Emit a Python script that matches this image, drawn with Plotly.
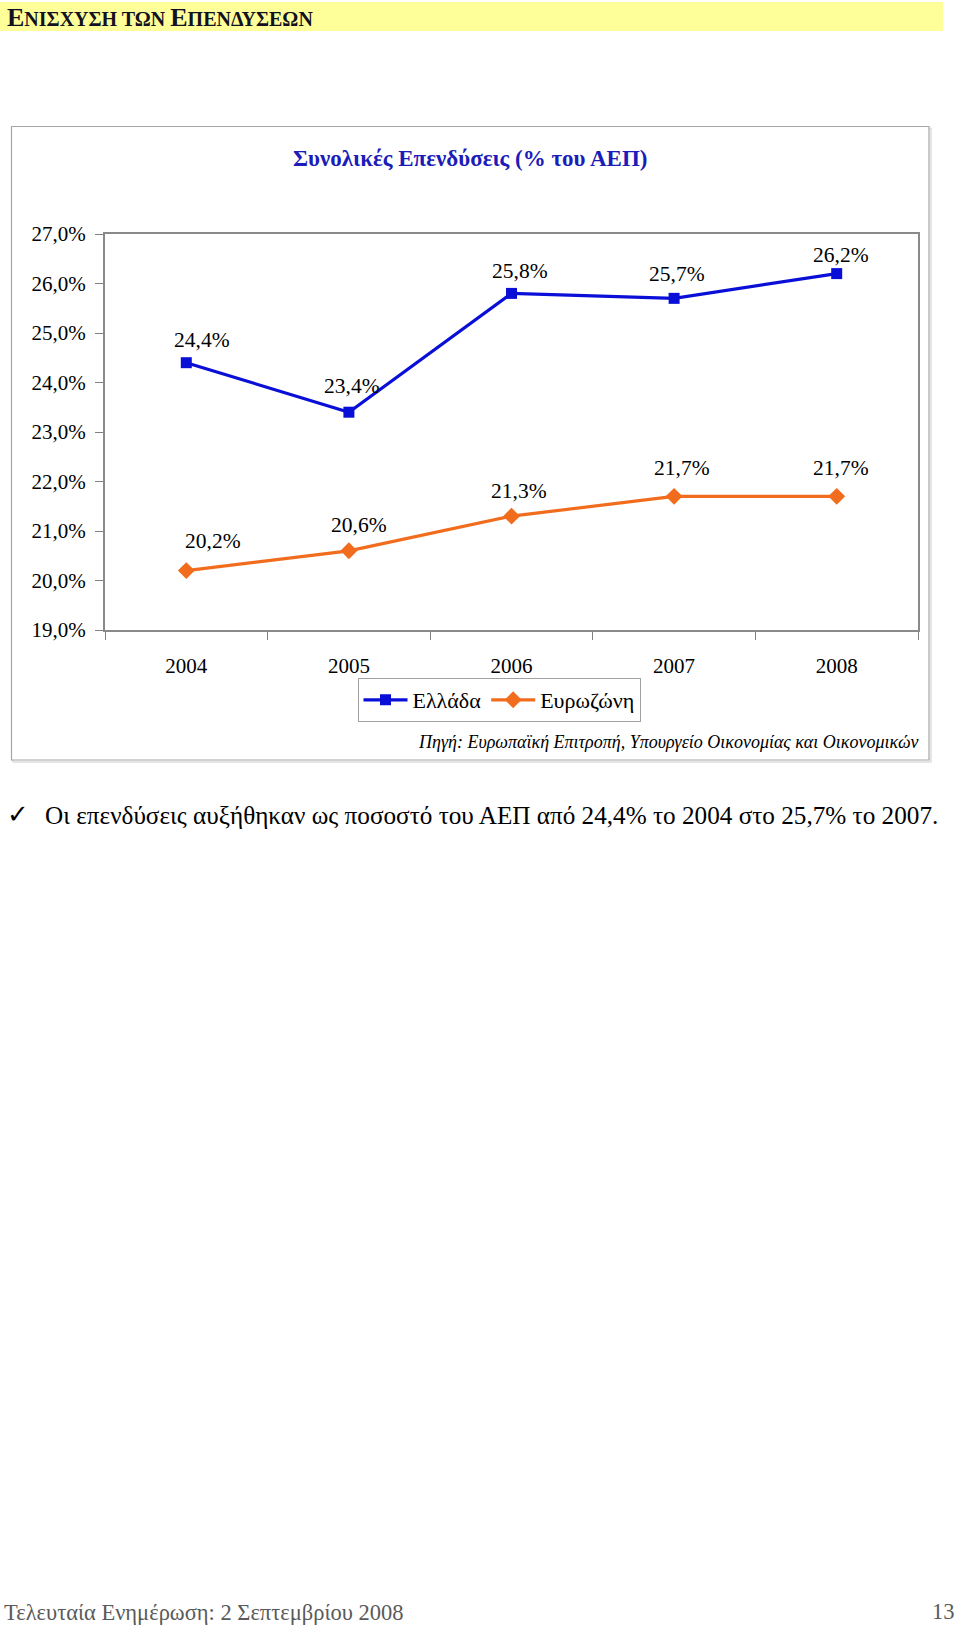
import plotly.graph_objects as go

# ---- data ----
years = ["2004", "2005", "2006", "2007", "2008"]
greece = [24.4, 23.4, 25.8, 25.7, 26.2]
eurozone = [20.2, 20.6, 21.3, 21.7, 21.7]
series_names = ["Ελλάδα", "Ευρωζώνη"]
y_ticks = [19, 20, 21, 22, 23, 24, 25, 26, 27]

chart_title = "Συνολικές Επενδύσεις (% του ΑΕΠ)"
source_text = "Πηγή: Ευρωπαϊκή Επιτροπή, Υπουργείο Οικονομίας και Οικονομικών"
bullet_text = "Οι επενδύσεις αυξήθηκαν ως ποσοστό του ΑΕΠ από 24,4% το 2004 στο 25,7% το 2007."
footer_text = "Τελευταία Ενημέρωση: 2 Σεπτεμβρίου 2008"
page_number = "13"

# label pixel offsets (layout, not data)
greece_label_shift = [(16, 23), (3, 26), (8, 22), (3, 24), (4, 19)]
euro_label_shift = [(27, 30), (10, 26), (7, 25), (8, 28), (4, 28)]

W, H = 960, 1626
SERIF = "Liberation Serif, Times New Roman, serif"
BLUE = "#0a0fd8"
ORANGE = "#f26c1e"


def px(x):
    return x / W


def py(y):
    return 1 - y / H


def fmt(v):
    return f"{v:.1f}".replace(".", ",") + "%"


x_idx = list(range(len(years)))

fig = go.Figure()
fig.add_trace(go.Scatter(
    x=x_idx, y=greece, name=series_names[0], mode="lines+markers",
    line=dict(color=BLUE, width=3.2),
    marker=dict(symbol="square", size=11, color=BLUE),
))
fig.add_trace(go.Scatter(
    x=x_idx, y=eurozone, name=series_names[1], mode="lines+markers",
    line=dict(color=ORANGE, width=3.2),
    marker=dict(symbol="diamond", size=13, color=ORANGE),
))

annotations = []
for i, v, (dx, dy) in zip(x_idx, greece, greece_label_shift):
    annotations.append(dict(x=i, y=v, xref="x", yref="y", text=fmt(v), showarrow=False,
                            xshift=dx, yshift=dy, font=dict(family=SERIF, size=21.5, color="#000")))
for i, v, (dx, dy) in zip(x_idx, eurozone, euro_label_shift):
    annotations.append(dict(x=i, y=v, xref="x", yref="y", text=fmt(v), showarrow=False,
                            xshift=dx, yshift=dy, font=dict(family=SERIF, size=21.5, color="#000")))

# header (small caps)
annotations.append(dict(
    x=px(5), y=py(18), xref="paper", yref="paper", xanchor="left", yanchor="middle",
    showarrow=False,
    text="<b><span style='font-size:26px'>Ε</span>ΝΙΣΧΥΣΗ ΤΩΝ <span style='font-size:26px'>Ε</span>ΠΕΝΔΥΣΕΩΝ</b>",
    font=dict(family=SERIF, size=20, color="#111122"),
))
# chart title
annotations.append(dict(
    x=px(470), y=py(158), xref="paper", yref="paper", xanchor="center", yanchor="middle",
    showarrow=False, text=f"<b>{chart_title}</b>",
    font=dict(family=SERIF, size=23, color="#1c1cb8"),
))
# source
annotations.append(dict(
    x=px(921), y=py(742), xref="paper", yref="paper", xanchor="right", yanchor="middle",
    showarrow=False, text=f"<i>{source_text}</i>",
    font=dict(family=SERIF, size=18, color="#000"),
))
# bullet
annotations.append(dict(
    x=px(5), y=py(814), xref="paper", yref="paper", xanchor="left", yanchor="middle",
    showarrow=False, text="✓",
    font=dict(family="DejaVu Sans, sans-serif", size=26, color="#000"),
))
annotations.append(dict(
    x=px(43), y=py(815), xref="paper", yref="paper", xanchor="left", yanchor="middle",
    showarrow=False, text=bullet_text,
    font=dict(family=SERIF, size=25.2, color="#000"),
))
# footer
annotations.append(dict(
    x=px(2), y=py(1612), xref="paper", yref="paper", xanchor="left", yanchor="middle",
    showarrow=False, text=footer_text,
    font=dict(family=SERIF, size=22.5, color="#5a5a5a"),
))
annotations.append(dict(
    x=px(957), y=py(1611), xref="paper", yref="paper", xanchor="right", yanchor="middle",
    showarrow=False, text=page_number,
    font=dict(family=SERIF, size=22.5, color="#5a5a5a"),
))

shapes = [
    # yellow header band
    dict(type="rect", xref="paper", yref="paper", x0=0, x1=px(943), y0=py(31), y1=py(2),
         fillcolor="#ffff99", line=dict(width=0), layer="below"),
    # outer chart box shadow
    dict(type="rect", xref="paper", yref="paper", x0=px(13), x1=px(931), y0=py(762), y1=py(128.5),
         fillcolor="rgba(0,0,0,0)", line=dict(color="#dddddd", width=1.5), layer="below"),
    # outer chart box
    dict(type="rect", xref="paper", yref="paper", x0=px(11.5), x1=px(929), y0=py(760), y1=py(126.5),
         fillcolor="white", line=dict(color="#a6a6a6", width=1.2), layer="below"),
]

fig.update_layout(
    width=W, height=H,
    margin=dict(l=0, r=0, t=0, b=0, autoexpand=False),
    paper_bgcolor="white", plot_bgcolor="white",
    showlegend=True,
    legend=dict(
        orientation="h", x=px(499), y=py(700), xanchor="center", yanchor="middle",
        bordercolor="#a0a0a0", borderwidth=1, bgcolor="white", itemwidth=44,
        font=dict(family=SERIF, size=22, color="#000"),
    ),
    annotations=annotations,
    shapes=shapes,
    xaxis=dict(
        domain=[px(105), px(918)], range=[-0.5, len(years) - 0.5],
        tickmode="array", tickvals=x_idx, ticktext=years,
        ticks="outside", ticklen=16, tickcolor="rgba(0,0,0,0)",
        minor=dict(tickmode="array", tickvals=[i - 0.5 for i in range(len(years) + 1)],
                   ticks="outside", ticklen=8, tickcolor="#808080", tickwidth=1, showgrid=False),
        showline=True, linecolor="#8a8a8a", linewidth=1.5, mirror=True,
        showgrid=False, zeroline=False, tickangle=0,
        tickfont=dict(family=SERIF, size=21, color="#000"),
    ),
    yaxis=dict(
        domain=[py(630), py(234)], range=[19, 27],
        tickmode="array", tickvals=y_ticks,
        ticktext=[fmt(t) + "\u00a0" for t in y_ticks],
        ticks="outside", ticklen=8, tickcolor="#808080", tickwidth=1,
        showline=True, linecolor="#8a8a8a", linewidth=1.5, mirror=True,
        showgrid=False, zeroline=False,
        tickfont=dict(family=SERIF, size=21, color="#000"),
    ),
)

fig.write_html("out.html", config={"displayModeBar": False},
               post_script="document.body.style.margin='0px';")
